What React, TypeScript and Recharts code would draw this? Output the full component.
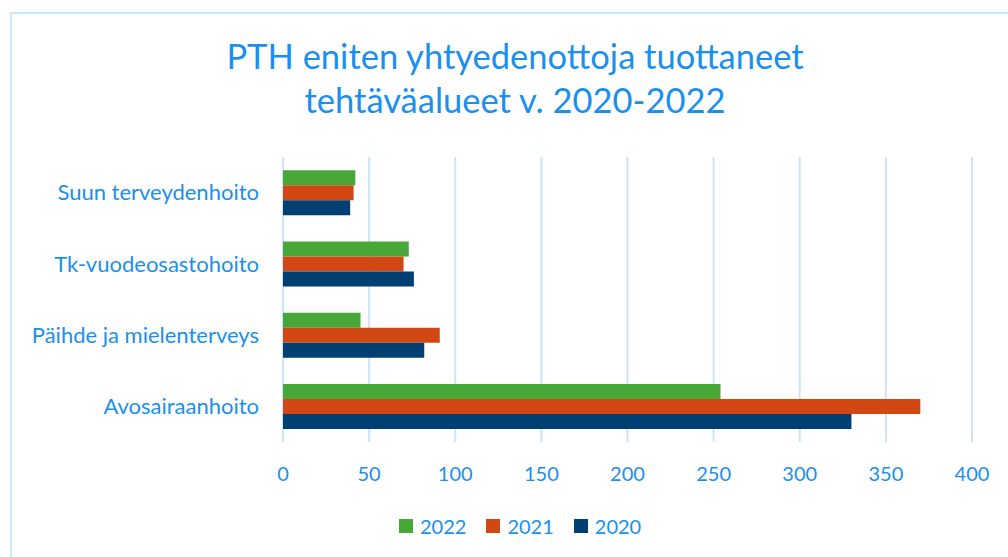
import React from "react";
import {
  BarChart, Bar, XAxis, YAxis, CartesianGrid, Legend
} from "recharts";

const categories = [
  "Suun terveydenhoito",
  "Tk-vuodeosastohoito",
  "Päihde ja mielenterveys",
  "Avosairaanhoito",
];
const seriesNames = ["2022", "2021", "2020"];
const values2022 = [42, 73, 45, 254];
const values2021 = [41, 70, 91, 370];
const values2020 = [39, 76, 82, 330];
const xTicks = [0, 50, 100, 150, 200, 250, 300, 350, 400];

const colors: Record<string, string> = {
  "2022": "#47a737",
  "2021": "#d24815",
  "2020": "#003f72",
};

const BLUE = "#1a8ff0";
const GRID = "#cbe4fa";
const FONT = "Lato, 'Open Sans', sans-serif";

const data = categories.map((name, i) => ({
  name,
  "2022": values2022[i],
  "2021": values2021[i],
  "2020": values2020[i],
}));

const LegendBox = ({ payload }: any) => {
  const items = [...(payload || [])].sort(
    (a: any, b: any) => seriesNames.indexOf(a.value) - seriesNames.indexOf(b.value)
  );
  return (
    <div style={{ display: "flex", alignItems: "center", fontFamily: FONT, fontSize: 20, color: BLUE }}>
      {items.map((p: any) => (
        <div key={p.value} style={{ display: "flex", alignItems: "center", marginRight: 20 }}>
          <span style={{ width: 14, height: 14, background: colors[p.value], marginRight: 7, display: "inline-block" }} />
          <span>{p.value}</span>
        </div>
      ))}
    </div>
  );
};

export default function App() {
  return (
    <div style={{ position: "absolute", left: 0, top: 0, width: 1008, height: 557, background: "#fff", overflow: "hidden" }}>
      <div
        style={{
          position: "absolute", left: 10, top: 12, width: 1020, height: 560,
          border: `2px solid #cde7fd`, boxSizing: "border-box",
        }}
      />
      <div
        style={{
          position: "absolute", left: 0, top: 34, width: 1030, textAlign: "center",
          fontFamily: FONT, fontSize: 34.5, lineHeight: "44px", color: BLUE,
        }}
      >
        PTH eniten yhtyedenottoja tuottaneet
        <br />
        tehtäväalueet v. 2020-2022
      </div>
      <div style={{ position: "absolute", left: 0, top: 0 }}>
        <BarChart
          width={1008}
          height={557}
          data={data}
          layout="vertical"
          margin={{ top: 157, right: 36, bottom: 0, left: 0 }}
          barCategoryGap="18.5%"
          barGap={0}
        >
          <CartesianGrid horizontal={false} stroke={GRID} strokeWidth={2} />
          <XAxis
            type="number"
            domain={[0, 400]}
            ticks={xTicks}
            axisLine={false}
            tickLine={false}
            tickSize={0}
            tickMargin={25}
            height={91}
            tick={{ fill: BLUE, fontSize: 20, fontFamily: FONT }}
          />
          <YAxis
            type="category"
            dataKey="name"
            width={283}
            axisLine={false}
            tickLine={false}
            tickSize={0}
            tickMargin={24}
            tick={{ fill: BLUE, fontSize: 22, fontFamily: FONT }}
          />
          <Legend
            content={(props: any) => <LegendBox payload={props.payload} />}
            wrapperStyle={{ position: "absolute", left: 399, top: 514, width: 320 }}
          />
          {seriesNames.map((s) => (
            <Bar key={s} dataKey={s} fill={colors[s]} isAnimationActive={false} />
          ))}
        </BarChart>
      </div>
    </div>
  );
}
